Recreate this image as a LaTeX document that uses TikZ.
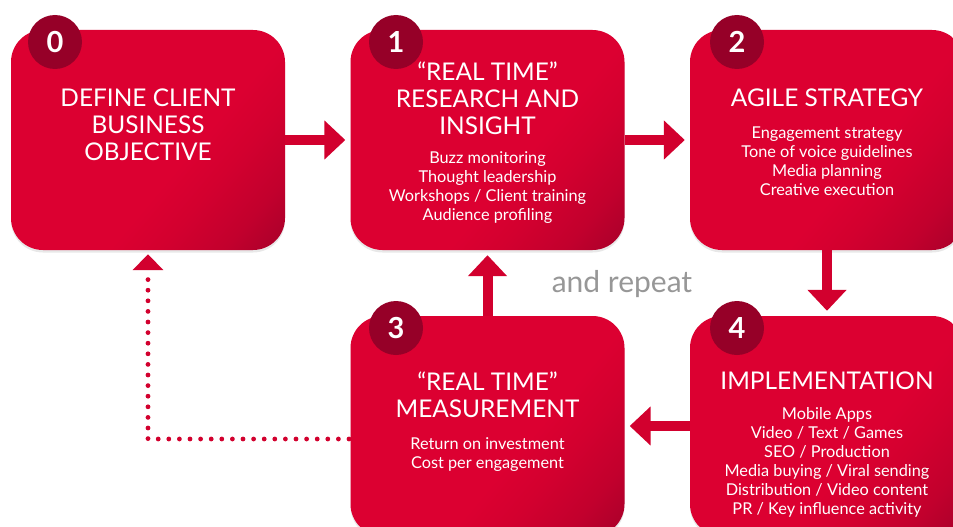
\documentclass[tikz,border=0pt]{standalone}
\usepackage{fontspec}
\setmainfont{Lato}
\usetikzlibrary{arrows.meta,shadows,shadings}
\definecolor{redA}{HTML}{DC0031}
\definecolor{redB}{HTML}{D3002F}
\definecolor{redC}{HTML}{C2002D}
\definecolor{redD}{HTML}{9A0029}
\definecolor{circred}{HTML}{960028}
\definecolor{arrowred}{HTML}{D2002E}
\definecolor{repeatgray}{HTML}{979797}
\pgfdeclarehorizontalshading{boxshade}{100bp}{color(0bp)=(redA); color(58bp)=(redA); color(66bp)=(redB); color(76bp)=(redC); color(90bp)=(redD); color(100bp)=(redD)}
\tikzset{
  stepbox/.style={minimum width=274pt, minimum height=220pt, rounded corners=32pt,
    inner sep=0pt, shading=boxshade, shading angle=-40,
    drop shadow={opacity=0.18, shadow xshift=0pt, shadow yshift=-2.5pt}},
  numcirc/.style={circle, fill=circred, minimum size=54pt, inner sep=0pt, text=white,
    font=\fontsize{29}{29}\selectfont\bfseries},
  titletext/.style={text=white, align=center, inner sep=0pt, font=\fontsize{24.4}{27}\selectfont},
  itemtext/.style={text=white, align=center, inner sep=0pt, font=\fontsize{16.3}{19}\selectfont},
  flowarrow/.style={draw=arrowred, line width=10pt, -{Triangle[length=21pt,width=38pt]}, shorten >=5pt},
  backarrow/.style={draw=arrowred, line width=4.8pt, line cap=round, dash pattern=on 0pt off 10.6pt,
    -{Triangle[length=16pt,width=30pt]}, shorten >=4pt}
}
\begin{document}
\begin{tikzpicture}[x=1pt,y=-1pt]
\useasboundingbox (0,0) rectangle (953,527);
\fill[white] (0,0) rectangle (953,527);

% boxes
\node[stepbox] (b0) at (148,140) {};
\node[stepbox] (b1) at (487.5,140) {};
\node[stepbox] (b2) at (827,140) {};
\node[stepbox] (b3) at (487.5,426) {};
\node[stepbox] (b4) at (827,426) {};

% connectors
\draw[flowarrow] (b0.east) -- (b1.west);
\draw[flowarrow] (b1.east) -- (b2.west);
\draw[flowarrow] (b2.south) -- (b4.north);
\draw[flowarrow] (b4.west) -- (b3.east);
\draw[flowarrow] (b3.north) -- (b1.south);
\coordinate (d0) at (349,439);
\coordinate (corner) at (148,439);
\draw[backarrow] (d0) -- (corner) -- (b0.south);

% number circles
\node[numcirc] (c0) at (55,42) {0};
\node[numcirc] (c1) at (396,42) {1};
\node[numcirc] (c2) at (737,42) {2};
\node[numcirc] (c3) at (396,328) {3};
\node[numcirc] (c4) at (737,328) {4};

% titles
\node[titletext] (t0) at (148,125) {DEFINE CLIENT\\BUSINESS\\OBJECTIVE};
\node[titletext] (t1) at (487.5,98) {“REAL TIME”\\RESEARCH AND\\INSIGHT};
\node[titletext] (t2) at (827,98) {AGILE STRATEGY};
\node[titletext] (t3) at (487.5,395) {“REAL TIME”\\MEASUREMENT};
\node[titletext] (t4) at (827,381) {IMPLEMENTATION};

% items
\node[itemtext] (i1) at (487.5,188) {Buzz monitoring\\Thought leadership\\Workshops / Client training\\Audience profiling};
\node[itemtext] (i2) at (827,161) {Engagement strategy\\Tone of voice guidelines\\Media planning\\Creative execution};
\node[itemtext] (i3) at (487.5,455) {Return on investment\\Cost per engagement};
\node[itemtext] (i4) at (827,462) {Mobile Apps\\Video / Text / Games\\SEO / Production\\Media buying / Viral sending\\Distribution / Video content\\PR / Key influence activity};

\node[text=repeatgray, inner sep=0pt, font=\fontsize{30}{30}\selectfont] (rep) at (622,284) {and repeat};
\end{tikzpicture}
\end{document}
